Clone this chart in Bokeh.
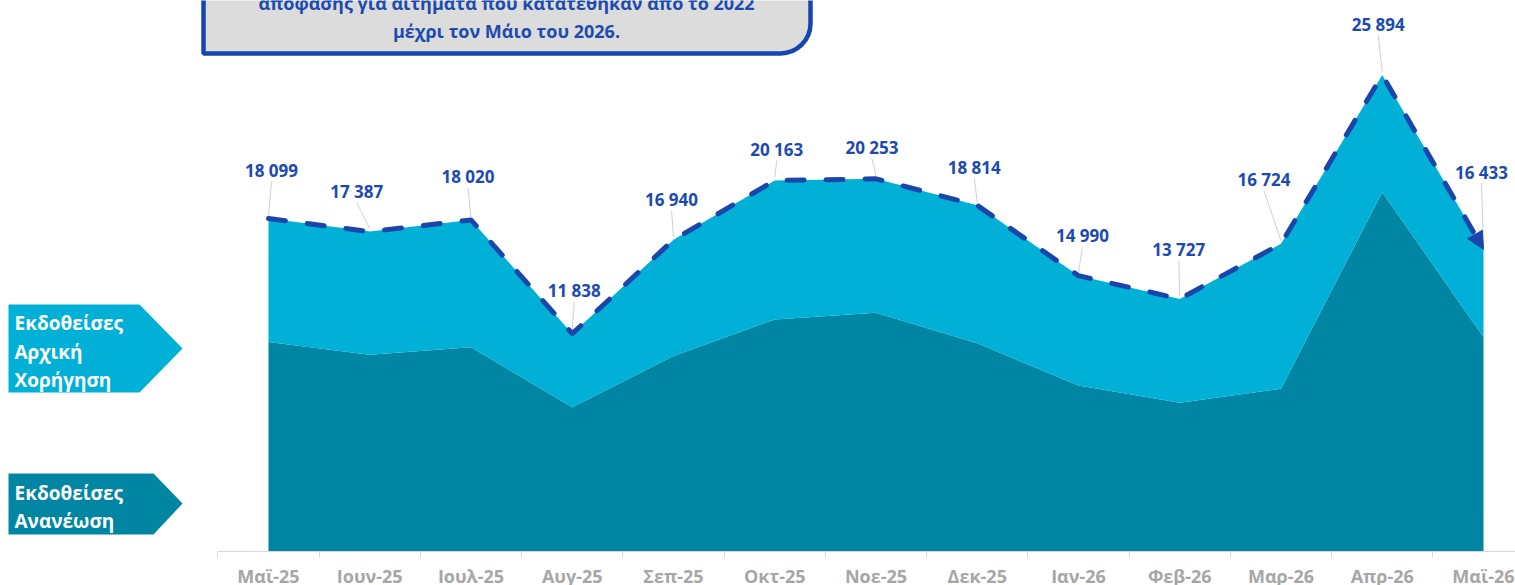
from bokeh.plotting import figure
from bokeh.models import Range1d, FixedTicker, ColumnDataSource, Arrow, NormalHead, BoxAnnotation
from bokeh.core.properties import value
from bokeh.embed import file_html
from bokeh.resources import INLINE

# ---------------- data ----------------
months = ["Μαϊ-25", "Ιουν-25", "Ιουλ-25", "Αυγ-25", "Σεπ-25", "Οκτ-25", "Νοε-25",
          "Δεκ-25", "Ιαν-26", "Φεβ-26", "Μαρ-26", "Απρ-26", "Μαϊ-26"]
total_issued = [18099, 17387, 18020, 11838, 16940, 20163, 20253,
                18814, 14990, 13727, 16724, 25894, 16433]
renewal_issued = [11380, 10690, 11100, 7840, 10620, 12610, 12970,
                  11320, 9020, 8080, 8840, 19530, 11650]

legend_initial = ["Εκδοθείσες", "Αρχική", "Χορήγηση"]
legend_renewal = ["Εκδοθείσες", "Ανανέωση"]
title_lines = ["απόφασης για αιτήματα που κατατέθηκαν από το 2022",
               "μέχρι τον Μάιο του 2026."]

# label placement (screen px offsets from each point)
label_dx = [3, -13, -3, 2, -2, 2, -4, -3, 4, -1, -17, -4, -2]
label_dy = [-48, -40, -43, -43, -40, -31, -31, -38, -40, -49, -64, -51, -77]

# ---------------- layout helpers ----------------
PX0, DX = 268.0, 101.25      # window x of first category, px per category
BASE, K = 551.0, 54.35       # window y of value 0, value units per px
FONT = value("Open Sans")
LIGHT = "#00B0D6"
DARK = "#0085A3"
BLUE = "#1A46AC"
LBLUE = "#1C4BAF"

def X(px):
    return (px - PX0) / DX

def Y(py):
    return (BASE - py) * K

idx = list(range(len(months)))

p = figure(frame_width=1515, frame_height=551,
           x_range=Range1d(X(0), X(1515)), y_range=Range1d(0, Y(0)),
           output_backend="svg", toolbar_location=None, y_axis_location=None,
           min_border_left=0, min_border_right=0, min_border_top=0, min_border_bottom=0)
p.outline_line_color = None
p.xgrid.visible = False
p.ygrid.visible = False
p.background_fill_color = "white"
p.border_fill_color = "white"

# x axis
ax = p.xaxis[0]
ax.ticker = FixedTicker(ticks=idx, minor_ticks=[i - 0.5 for i in range(len(months) + 1)])
ax.major_label_overrides = {i: m for i, m in zip(idx, months)}
ax.bounds = (-0.5, len(months) - 0.5)
ax.axis_line_color = "#D9D9D9"
ax.major_tick_line_color = None
ax.major_tick_out = 0
ax.major_tick_in = 0
ax.minor_tick_line_color = "#D9D9D9"
ax.minor_tick_out = 6
ax.minor_tick_in = 0
ax.major_label_text_font = "Open Sans"
ax.major_label_text_font_style = "bold"
ax.major_label_text_font_size = "18px"
ax.major_label_text_color = "#A6A6A6"
ax.major_label_standoff = 6

# title box (partially off the top)
box = BoxAnnotation(left=X(203), right=X(810), top=Y(-40), bottom=Y(53),
                    fill_color="#DCDCDC", fill_alpha=1.0,
                    line_color="#1546B0", line_alpha=1.0, line_width=4.5,
                    border_radius=(0, 0, 30, 0), level="underlay")
p.add_layout(box)
p.text(x=[X(506)] * 2, y=[Y(2), Y(30)], text=title_lines,
       text_align="center", text_baseline="middle", text_font=FONT,
       text_font_style="bold", text_font_size="18px", text_color=LBLUE)

# legend arrows
p.patch(x=[X(8), X(139), X(182), X(139), X(8)],
        y=[Y(304), Y(304), Y(348), Y(392), Y(392)],
        fill_color=LIGHT, line_color=None)
p.patch(x=[X(8), X(153), X(182), X(153), X(8)],
        y=[Y(473), Y(473), Y(503), Y(534), Y(534)],
        fill_color=DARK, line_color=None)
p.text(x=[X(14)] * 3, y=[Y(322), Y(351), Y(379)], text=legend_initial,
       text_align="left", text_baseline="middle", text_font=FONT,
       text_font_style="bold", text_font_size="19px", text_color="white")
p.text(x=[X(14)] * 2, y=[Y(492), Y(520)], text=legend_renewal,
       text_align="left", text_baseline="middle", text_font=FONT,
       text_font_style="bold", text_font_size="19px", text_color="white")

# stacked areas
p.varea(x=idx, y1=[0] * len(idx), y2=renewal_issued, fill_color=DARK)
p.varea(x=idx, y1=renewal_issued, y2=total_issued, fill_color=LIGHT)

# leader lines
lx0, ly0, lx1, ly1 = [], [], [], []
for i, t, dx, dy in zip(idx, total_issued, label_dx, label_dy):
    if -dy - 11 > 6:
        lx0.append(i + dx / DX)
        ly0.append(t + (-dy - 11) * K)
        lx1.append(i)
        ly1.append(t + 3 * K)
p.segment(x0=lx0, y0=ly0, x1=lx1, y1=ly1, line_color="#D0D0D0", line_width=1)

# dashed total line + arrow head
p.line(x=idx, y=total_issued, line_color=BLUE, line_width=5,
       line_dash="17 22", line_cap="round", line_join="round")
p.add_layout(Arrow(x_start=idx[-2], y_start=total_issued[-2],
                   x_end=idx[-1], y_end=total_issued[-1],
                   line_alpha=0.0,
                   end=NormalHead(size=17, fill_color=BLUE, line_color=BLUE)))

# data labels
src = ColumnDataSource(dict(
    x=idx, y=total_issued,
    text=[f"{v:,}".replace(",", " ") for v in total_issued],
    dx=label_dx, dy=label_dy))
p.text(x="x", y="y", text="text", x_offset="dx", y_offset="dy", source=src,
       text_align="center", text_baseline="middle", text_font=FONT,
       text_font_style="bold", text_font_size="17px", text_color=LBLUE)

open("out.html", "w").write(file_html(p, INLINE))
